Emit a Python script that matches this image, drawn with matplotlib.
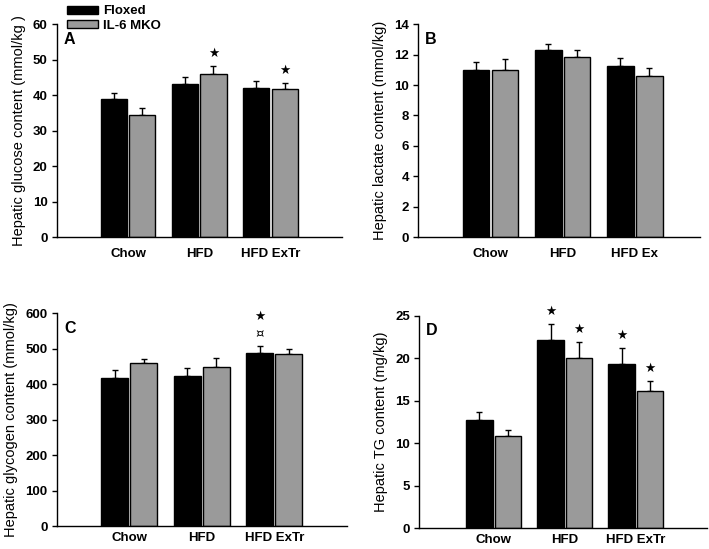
import numpy as np
import matplotlib
matplotlib.use('Agg')
import matplotlib.pyplot as plt
from matplotlib.patches import Patch

plt.rcParams['font.family'] = ['Liberation Sans', 'DejaVu Sans']

# data
groups = ['Chow', 'HFD', 'HFD ExTr']
groups_b = ['Chow', 'HFD', 'HFD Ex']

glucose_flox = [38.8, 43.1, 41.9]
glucose_flox_err = [1.7, 2.1, 2.0]
glucose_mko = [34.4, 46.0, 41.6]
glucose_mko_err = [1.9, 2.2, 1.9]

lactate_flox = [11.0, 12.27, 11.26]
lactate_flox_err = [0.54, 0.42, 0.5]
lactate_mko = [11.0, 11.87, 10.6]
lactate_mko_err = [0.7, 0.4, 0.5]

glycogen_flox = [419, 425, 490]
glycogen_flox_err = [22, 22, 17]
glycogen_mko = [460, 449, 485]
glycogen_mko_err = [13, 27, 14]

tg_flox = [12.7, 22.1, 19.35]
tg_flox_err = [0.94, 1.96, 1.84]
tg_mko = [10.87, 20.0, 16.17]
tg_mko_err = [0.7, 1.9, 1.2]

# significance marks: (group index, 0=floxed / 1=mko, symbol)
marks_a = [(1, 1, '★'), (2, 1, '★')]
marks_b = []
marks_c = [(2, 0, '¤'), (2, 0, '★')]
marks_d = [(1, 0, '★'), (1, 1, '★'), (2, 0, '★'), (2, 1, '★')]

fig = plt.figure(figsize=(7.09, 5.49), dpi=100)

black = '#000000'
grey = '#9a9a9a'
w = 0.37


def panel(rect, flox, flox_err, mko, mko_err, cats, ylim, yticks, ylabel, letter, marks, xlim, xpad):
    ax = fig.add_axes(rect)
    x = np.arange(1, len(cats) + 1)
    for xs, vals, errs, col in [(x - 0.2, flox, flox_err, black), (x + 0.2, mko, mko_err, grey)]:
        ax.bar(xs, vals, width=w, color=col, edgecolor='black', linewidth=1, zorder=2)
        ax.errorbar(xs, vals, yerr=[np.zeros(len(errs)), errs], fmt='none',
                    ecolor='black', elinewidth=1, capsize=2.5, capthick=1, zorder=1)
    # significance symbols stacked above error bar
    stack = {}
    for gi, s, sym in marks:
        vals = flox if s == 0 else mko
        errs = flox_err if s == 0 else mko_err
        xs = x[gi] + (-0.2 if s == 0 else 0.2)
        k = stack.get((gi, s), 0)
        stack[(gi, s)] = k + 1
        ax.annotate(sym, (xs, vals[gi] + errs[gi]), xytext=(0, 9 + 13 * k),
                    textcoords='offset points', ha='center', va='center',
                    fontsize=9 if sym == '★' else 9.5, family=['DejaVu Sans'])
    ax.set_xlim(*xlim)
    ax.set_ylim(*ylim)
    ax.set_yticks(yticks)
    ax.set_xticks(x)
    ax.set_xticklabels(cats, fontsize=9.5, fontweight='bold')
    ax.tick_params(axis='x', length=0, pad=xpad)
    ax.tick_params(axis='y', labelsize=9.5, length=3.5, width=1, direction='out', pad=3)
    for lab in ax.get_yticklabels():
        lab.set_fontweight('bold')
    ax.spines['top'].set_visible(False)
    ax.spines['right'].set_visible(False)
    ax.spines['left'].set_linewidth(1)
    ax.spines['bottom'].set_linewidth(1)
    ax.set_ylabel(ylabel, fontsize=10.5, labelpad=5)
    ax.text(0.025, 0.965, letter, transform=ax.transAxes, ha='left', va='top',
            fontsize=11.5, fontweight='bold')
    return ax


ax_a = panel([0.080, 0.568, 0.402, 0.388], glucose_flox, glucose_flox_err, glucose_mko, glucose_mko_err,
             groups, (0, 60), range(0, 61, 10), 'Hepatic glucose content (mmol/kg )', 'A', marks_a, (0, 4), 8)
ax_b = panel([0.590, 0.568, 0.397, 0.388], lactate_flox, lactate_flox_err, lactate_mko, lactate_mko_err,
             groups_b, (0, 14), range(0, 15, 2), 'Hepatic lactate content (mmol/kg)', 'B', marks_b, (0, 3.9), 8)
ax_c = panel([0.080, 0.041, 0.409, 0.388], glycogen_flox, glycogen_flox_err, glycogen_mko, glycogen_mko_err,
             groups, (0, 600), range(0, 601, 100), 'Hepatic glycogen content (mmol/kg)', 'C', marks_c, (0, 4), 4)
ax_d = panel([0.591, 0.038, 0.406, 0.387], tg_flox, tg_flox_err, tg_mko, tg_mko_err,
             groups, (0, 25), range(0, 26, 5), 'Hepatic TG content (mg/kg)', 'D', marks_d, (-0.05, 4), 4)

handles = [Patch(facecolor=black, edgecolor='black'), Patch(facecolor=grey, edgecolor='black')]
fig.legend(handles, ['Floxed', 'IL-6 MKO'], loc='upper left', bbox_to_anchor=(0.078, 1.012),
           frameon=False, handlelength=2.3, handleheight=0.55,
           handletextpad=0.4, labelspacing=0.2, prop={'weight': 'bold', 'size': 9.5})

fig.savefig('out.png', dpi=100)
